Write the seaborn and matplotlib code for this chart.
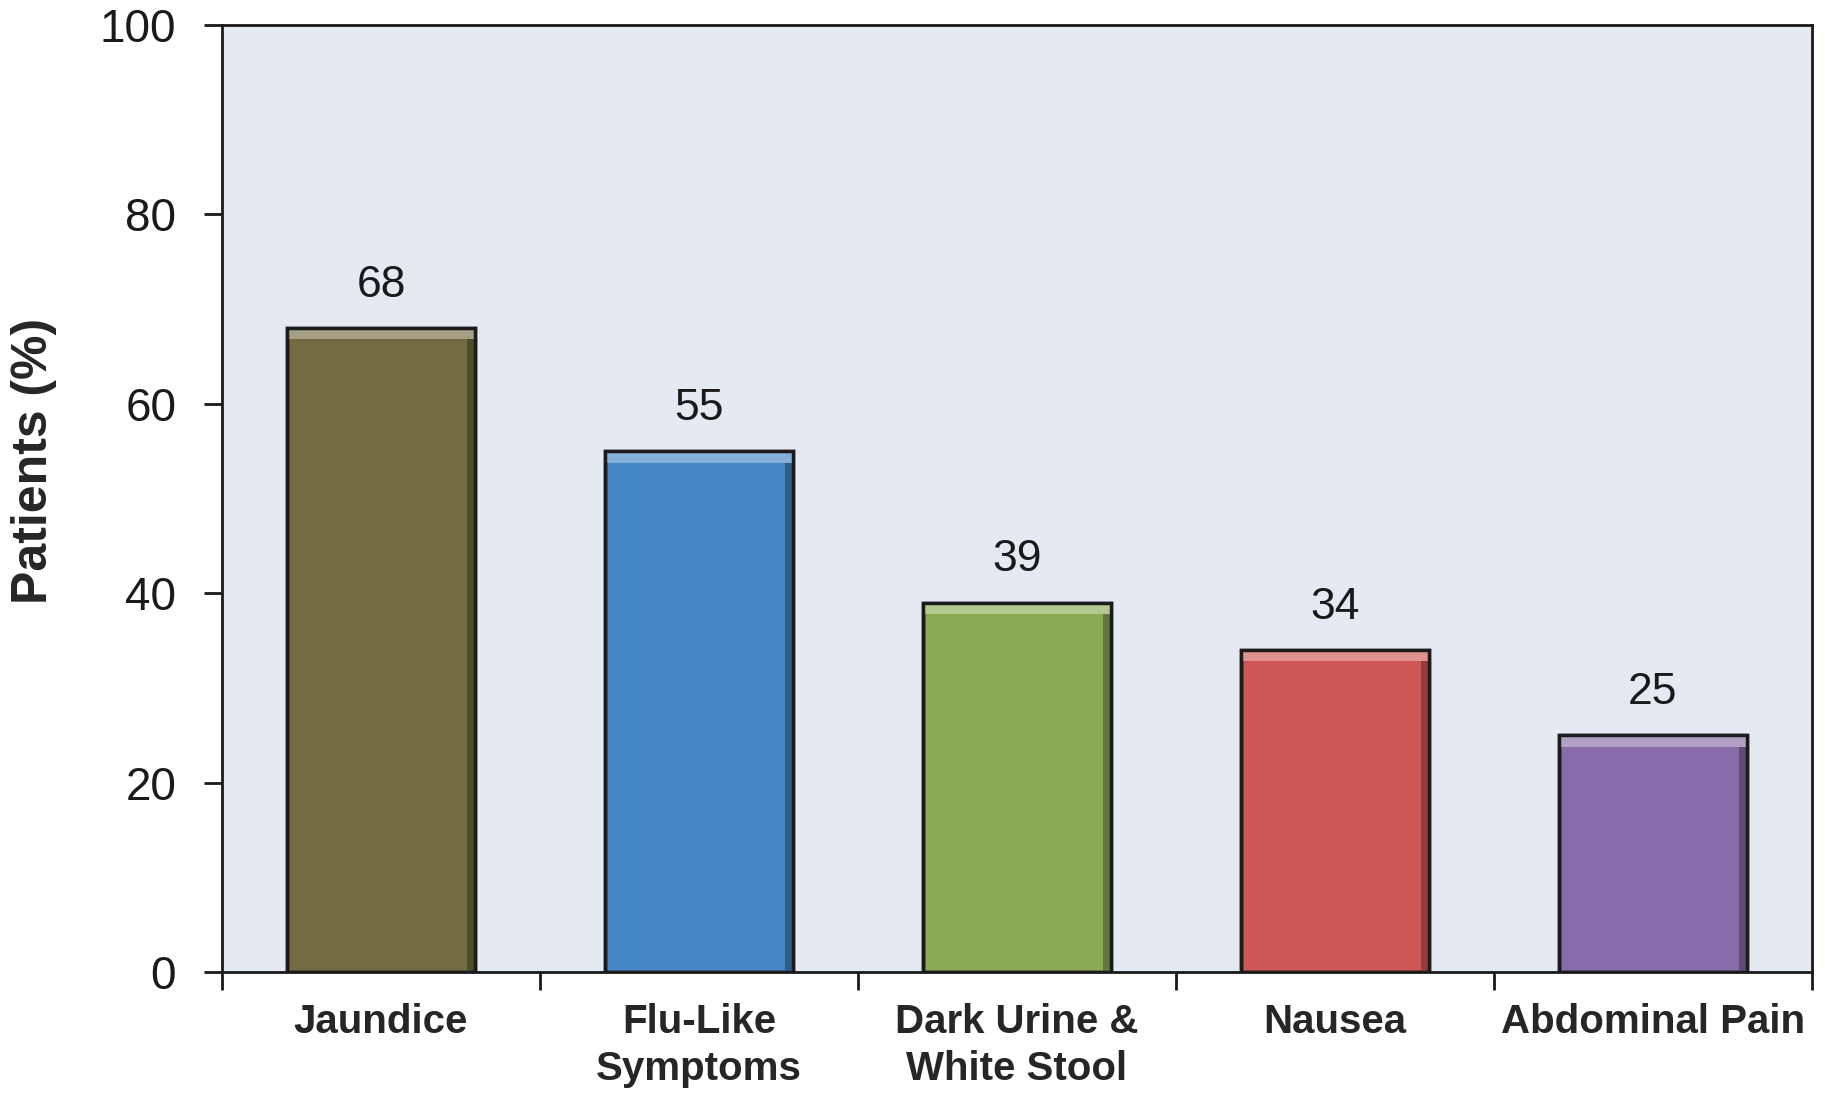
import numpy as np
import seaborn as sns
import matplotlib.pyplot as plt
from matplotlib.patches import Rectangle

# data
categories = ['Jaundice', 'Flu-Like\nSymptoms', 'Dark Urine &\nWhite Stool', 'Nausea', 'Abdominal Pain']
values = [68, 55, 39, 34, 25]
bar_colors = ['#736B42', '#4487C4', '#8CAA54', '#CD5755', '#886BA9']
y_ticks = [0, 20, 40, 60, 80, 100]

sns.set_style('white')
plt.rcParams['font.family'] = ['Liberation Sans', 'DejaVu Sans']

fig = plt.figure(figsize=(18.25, 10.93), dpi=100)
ax = fig.add_axes([222 / 1825, 1 - 972 / 1093, (1812 - 222) / 1825, (972 - 25) / 1093])
ax.set_facecolor('#E4E9F2')

sns.barplot(x=categories, y=values, hue=categories, palette=bar_colors,
            legend=False, width=0.59, edgecolor='#1c1c1c', linewidth=2.5,
            saturation=1, ax=ax)

# simple bevel: light band on top, darker bands on the sides
for bar, col in zip(list(ax.patches), bar_colors):
    x, w, h = bar.get_x(), bar.get_width(), bar.get_height()
    rgb = np.array(plt.matplotlib.colors.to_rgb(col))
    light = np.clip(rgb + (1 - rgb) * 0.35, 0, 1)
    dark = rgb * 0.7
    z = bar.get_zorder()
    ax.add_patch(Rectangle((x, h - 1.2), w, 1.2, color=light, lw=0, zorder=z + 0.1))
    ax.add_patch(Rectangle((x + w - 0.025, 0), 0.025, h - 1.2, color=dark, lw=0, zorder=z + 0.1))
    ax.add_patch(Rectangle((x, 0), 0.01, h - 1.2, color=dark, lw=0, alpha=0.6, zorder=z + 0.1))
    # outline again on top of the bevel strips
    ax.add_patch(Rectangle((x, 0), w, h, fill=False, ec='#1c1c1c', lw=2.5, zorder=z + 0.2))

for cont in ax.containers:
    ax.bar_label(cont, fontsize=32, padding=16, color='#1a1a1a')

ax.set_ylim(0, 100)
ax.set_xlim(-0.5, len(categories) - 0.5)
ax.set_yticks(y_ticks)
ax.tick_params(axis='y', labelsize=33, length=13, width=2, pad=20, direction='out', left=True, colors='#1a1a1a')
ax.tick_params(axis='x', which='major', length=0, pad=22, labelsize=29)
ax.set_xticks(np.arange(-0.5, len(categories), 1), minor=True)
ax.tick_params(axis='x', which='minor', length=13, width=2, direction='out', bottom=True, color='#1a1a1a')
for lab in ax.get_xticklabels():
    lab.set_fontweight('bold')
    lab.set_linespacing(1.3)

ax.set_ylabel('Patients (%)', fontsize=36, fontweight='bold')
ax.yaxis.set_label_coords(-0.104, 0.54)
ax.set_xlabel('')

for side in ['left', 'bottom', 'right', 'top']:
    ax.spines[side].set_visible(True)
    ax.spines[side].set_color('#1a1a1a')
    ax.spines[side].set_linewidth(2)

fig.savefig('out.png', dpi=100)
